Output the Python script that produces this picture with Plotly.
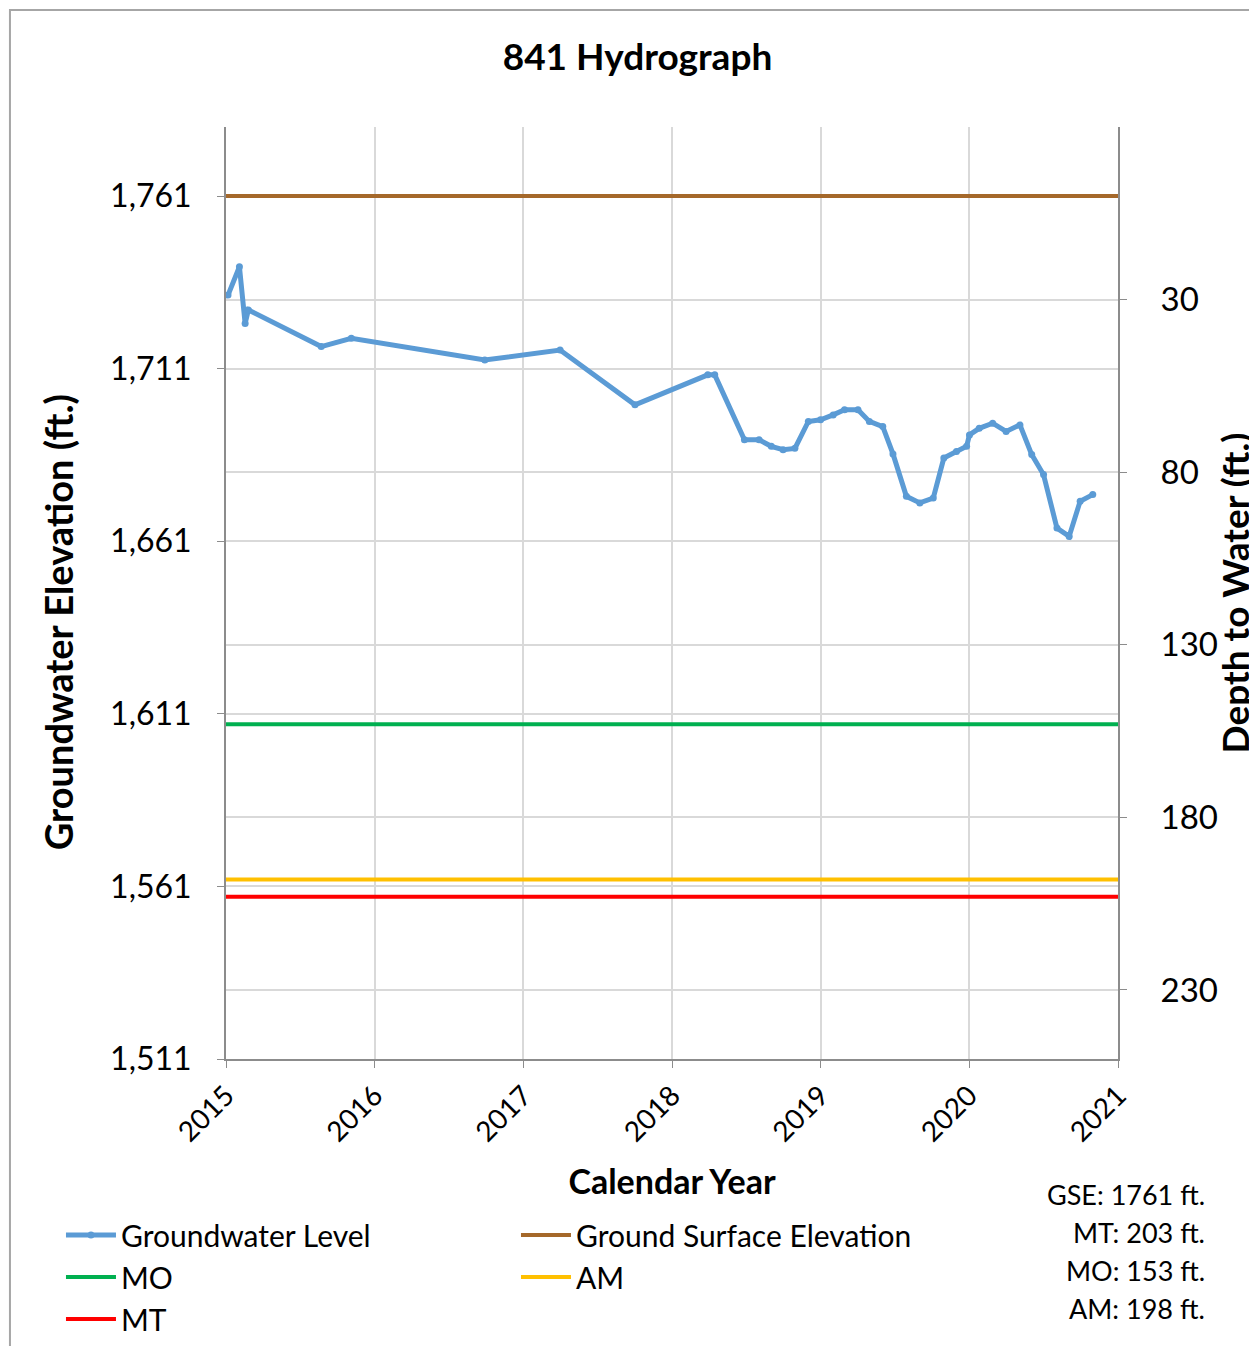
import plotly.graph_objects as go

# Well 841 groundwater level readings (elevation, ft.)
gw_dates = [
    '2015-01-06', '2015-02-03', '2015-02-17', '2015-02-25', '2015-08-23',
    '2015-11-05', '2016-09-28', '2017-04-01', '2017-10-02', '2018-03-30',
    '2018-04-16', '2018-06-28', '2018-08-03', '2018-09-02', '2018-10-01',
    '2018-10-30', '2018-12-02', '2019-01-01', '2019-02-01', '2019-03-01',
    '2019-04-03', '2019-05-01', '2019-06-03', '2019-06-28', '2019-07-31',
    '2019-09-02', '2019-10-05', '2019-10-31', '2019-12-01', '2019-12-26',
    '2020-01-02', '2020-01-26', '2020-02-28', '2020-04-01', '2020-05-05',
    '2020-06-03', '2020-07-02', '2020-08-04', '2020-09-03', '2020-09-30',
    '2020-10-31',
]
gw_elev = [
    1732.3, 1740.5, 1724.1, 1728.0, 1717.4,
    1719.8, 1713.5, 1716.4, 1700.5, 1709.2,
    1709.2, 1690.4, 1690.4, 1688.5, 1687.5,
    1687.9, 1695.7, 1696.2, 1697.6, 1699.1,
    1699.1, 1695.7, 1694.2, 1686.3, 1674.0,
    1672.1, 1673.5, 1685.1, 1687.0, 1688.5,
    1691.8, 1693.7, 1695.2, 1692.8, 1694.7,
    1686.1, 1680.3, 1664.8, 1662.4, 1672.6,
    1674.5,
]

GSE = 1761
MT_DEPTH = 203
MO_DEPTH = 153
AM_DEPTH = 198

X_START, X_END = '2015-01-01', '2021-01-01'
year_ticks = ['2015', '2016', '2017', '2018', '2019', '2020', '2021']
elev_ticks = [1511, 1561, 1611, 1661, 1711, 1761]
depth_ticks = [30, 80, 130, 180, 230]
ELEV_RANGE = [1511, 1781]

FONT = 'Lato, Calibri, sans-serif'
GRID = '#d9d9d9'
AXIS = '#8c8c8c'

fig = go.Figure()

fig.add_trace(go.Scatter(
    x=gw_dates, y=gw_elev, name='Groundwater Level', mode='lines+markers',
    line={'color': '#5b9bd5', 'width': 5}, marker={'size': 7, 'color': '#5b9bd5'},
))

ref_lines = [
    ('Ground Surface Elevation', GSE, '#a5682a'),
    ('MO', GSE - MO_DEPTH, '#00b050'),
    ('AM', GSE - AM_DEPTH, '#ffc000'),
    ('MT', GSE - MT_DEPTH, '#ff0000'),
]
for name, level, color in ref_lines:
    fig.add_trace(go.Scatter(
        x=[X_START, X_END], y=[level, level], name=name, mode='lines',
        line={'color': color, 'width': 4},
    ))

# invisible trace so the depth axis is drawn
fig.add_trace(go.Scatter(
    x=[X_START], y=[GSE - GSE], yaxis='y2', mode='markers', marker={'opacity': 0},
    showlegend=False, hoverinfo='skip',
))

# the page body adds an 8px offset, so the figure is 8px smaller than the window
fig.update_layout(
    width=1249,
    height=1338,
    margin={'l': 218, 'r': 139, 't': 119, 'b': 287, 'autoexpand': False},
    plot_bgcolor='#ffffff',
    paper_bgcolor='#ffffff',
    font={'family': FONT, 'size': 28, 'color': '#000000'},
    title={
        'text': '<b>841 Hydrograph</b>', 'x': 0.504, 'xanchor': 'center',
        'y': 1 - 49 / 1338, 'yanchor': 'middle', 'font': {'size': 37},
    },
    showlegend=True,
    legend={
        'orientation': 'h', 'x': -0.185, 'xanchor': 'left', 'y': -0.161, 'yanchor': 'top',
        'entrywidth': 390, 'entrywidthmode': 'pixels', 'itemwidth': 50,
        'font': {'size': 30}, 'bgcolor': 'rgba(0,0,0,0)', 'traceorder': 'normal',
    },
    xaxis={
        'type': 'date', 'range': [X_START, X_END],
        'tickvals': [f'{y}-01-01' for y in year_ticks], 'ticktext': year_ticks,
        'tickangle': -45, 'ticks': 'outside', 'ticklen': 7, 'tickcolor': AXIS,
        'showgrid': True, 'gridcolor': GRID, 'gridwidth': 2,
        'showline': True, 'linecolor': AXIS, 'linewidth': 2, 'mirror': False,
        'tickfont': {'size': 28},
        'title': {'text': '<b>Calendar Year</b>', 'standoff': 24, 'font': {'size': 34}},
        'zeroline': False,
    },
    yaxis={
        'range': ELEV_RANGE, 'tickvals': elev_ticks, 'tickformat': ',',
        'ticks': 'outside', 'ticklen': 7, 'tickcolor': AXIS,
        'ticklabelstandoff': 19,
        'showgrid': True, 'gridcolor': GRID, 'gridwidth': 2,
        'showline': True, 'linecolor': AXIS, 'linewidth': 2,
        'tickfont': {'size': 32},
        'zeroline': False,
    },
    yaxis2={
        'overlaying': 'y', 'side': 'right', 'anchor': 'x',
        'range': [GSE - ELEV_RANGE[0], GSE - ELEV_RANGE[1]],
        'tickvals': depth_ticks,
        'ticks': 'outside', 'ticklen': 7, 'tickcolor': AXIS,
        'ticklabelstandoff': 27,
        'showgrid': True, 'gridcolor': GRID, 'gridwidth': 2,
        'showline': True, 'linecolor': AXIS, 'linewidth': 2,
        'tickfont': {'size': 33},
        'title': {'text': '<b>Depth to Water (ft.)</b>', 'standoff': 14, 'font': {'size': 37}},
        'zeroline': False,
    },
)

# left axis title sits a little below the axis centre, as in the original
fig.add_annotation(
    text='<b>Groundwater Elevation (ft.)</b>', xref='paper', yref='paper',
    x=-0.188, y=0.469, xanchor='center', yanchor='middle', textangle=-90,
    showarrow=False, font={'size': 38},
)

notes = [
    f'GSE: {GSE} ft.',
    f'MT: {MT_DEPTH} ft.',
    f'MO: {MO_DEPTH} ft.',
    f'AM: {AM_DEPTH} ft.',
]
for i, text in enumerate(notes):
    fig.add_annotation(
        text=text, xref='paper', yref='paper', x=1.0998, y=-0.1459 - i * 0.0405,
        xanchor='right', yanchor='middle', showarrow=False, font={'size': 27},
    )

fig.add_shape(
    type='rect', xref='paper', yref='paper', x0=-0.2422, x1=1.25, y0=-0.36, y1=1.1255,
    line={'color': '#a6a6a6', 'width': 2},
)

fig.write_html('out.html')
